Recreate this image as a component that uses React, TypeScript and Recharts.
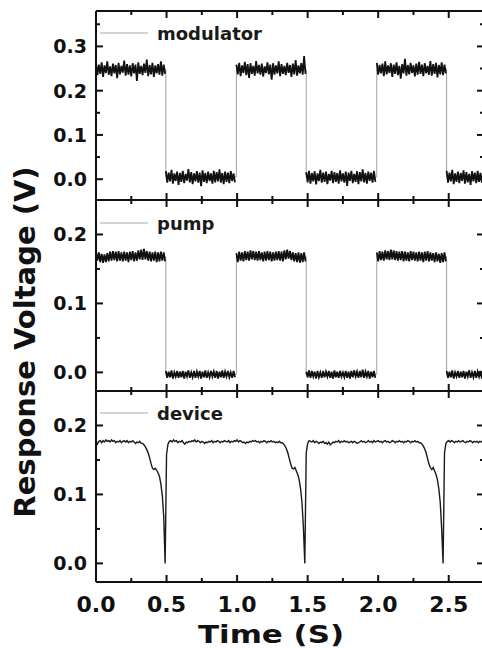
import React from 'react';
import { LineChart, Line, XAxis, YAxis } from 'recharts';

// time axis
const X_MAX = 2.75;
const SAMPLE_STEP = 0.01;
const timeTicks = [0, 0.25, 0.5, 0.75, 1, 1.25, 1.5, 1.75, 2, 2.25, 2.5];
const timeMajors = [0, 0.5, 1, 1.5, 2, 2.5];

// y ticks
const modulatorTicks = [0, 0.05, 0.1, 0.15, 0.2, 0.25, 0.3, 0.35];
const modulatorMajors = [0, 0.1, 0.2, 0.3];
const lowerTicks = [0, 0.05, 0.1, 0.15, 0.2];
const lowerMajors = [0, 0.1, 0.2];

// square wave switching instants and the level of each half period
const switchTimes = [0.495, 0.995, 1.49, 1.99, 2.485];
const modulatorLevels = [0.248, 0.005, 0.248, 0.005, 0.249, 0.005];
const pumpLevels = [0.168, -0.003, 0.168, -0.003, 0.168, -0.003];

// noisy traces, one list per half period, sampled every 10 ms
const modulatorNoise = [
  [0.262, 0.235, 0.259, 0.238, 0.264, 0.231, 0.257, 0.240, 0.266, 0.236,
   0.255, 0.233, 0.261, 0.239, 0.258, 0.228, 0.263, 0.237, 0.256, 0.241,
   0.268, 0.234, 0.260, 0.236, 0.257, 0.232, 0.262, 0.239, 0.259, 0.222,
   0.264, 0.238, 0.256, 0.235, 0.261, 0.240, 0.270, 0.233, 0.258, 0.237,
   0.263, 0.231, 0.257, 0.239, 0.260, 0.236, 0.266, 0.234, 0.259, 0.238],
  [0.018, -0.008, 0.015, -0.005, 0.021, -0.010, 0.013, -0.004, 0.017, -0.013,
   0.014, -0.006, 0.019, -0.009, 0.012, -0.003, 0.023, -0.007, 0.016, -0.011,
   0.013, -0.005, 0.018, -0.008, 0.015, -0.016, 0.020, -0.006, 0.014, -0.009,
   0.017, -0.004, 0.013, -0.010, 0.019, -0.007, 0.016, -0.005, 0.022, -0.008,
   0.014, -0.011, 0.017, -0.006, 0.015, -0.009, 0.018, -0.004, 0.013, -0.007],
  [0.259, 0.237, 0.263, 0.233, 0.257, 0.240, 0.265, 0.235, 0.260, 0.229,
   0.262, 0.238, 0.256, 0.234, 0.267, 0.239, 0.258, 0.236, 0.261, 0.232,
   0.255, 0.240, 0.264, 0.237, 0.259, 0.225, 0.262, 0.236, 0.257, 0.239,
   0.266, 0.233, 0.260, 0.238, 0.256, 0.235, 0.263, 0.240, 0.258, 0.231,
   0.261, 0.237, 0.269, 0.234, 0.257, 0.239, 0.262, 0.236, 0.278, 0.238],
  [0.016, -0.007, 0.019, -0.010, 0.014, -0.005, 0.018, -0.012, 0.013, -0.004,
   0.021, -0.008, 0.015, -0.006, 0.017, -0.011, 0.012, -0.003, 0.019, -0.009,
   0.016, -0.006, 0.014, -0.010, 0.020, -0.005, 0.013, -0.008, 0.017, -0.015,
   0.015, -0.004, 0.019, -0.009, 0.012, -0.006, 0.018, -0.011, 0.016, -0.005,
   0.022, -0.007, 0.014, -0.010, 0.017, -0.004, 0.015, -0.008, 0.019, -0.006],
  [0.263, 0.236, 0.258, 0.239, 0.261, 0.233, 0.266, 0.237, 0.257, 0.240,
   0.262, 0.231, 0.259, 0.238, 0.264, 0.235, 0.256, 0.227, 0.260, 0.239,
   0.272, 0.234, 0.258, 0.237, 0.263, 0.240, 0.257, 0.232, 0.261, 0.236,
   0.265, 0.238, 0.259, 0.233, 0.262, 0.239, 0.256, 0.236, 0.267, 0.234,
   0.260, 0.238, 0.263, 0.230, 0.258, 0.237, 0.264, 0.235, 0.259, 0.239],
  [0.019, -0.008, 0.015, -0.005, 0.021, -0.011, 0.013, -0.006, 0.017, -0.009,
   0.014, -0.004, 0.020, -0.010, 0.016, -0.007, 0.012, -0.013, 0.018, -0.005,
   0.015, -0.009, 0.019, -0.006, 0.014, -0.008, 0.017],
];

const pumpNoise = [
  [0.175, 0.162, 0.174, 0.160, 0.172, 0.159, 0.171, 0.160, 0.173, 0.161,
   0.175, 0.162, 0.176, 0.163, 0.175, 0.161, 0.176, 0.162, 0.174, 0.161,
   0.175, 0.162, 0.174, 0.160, 0.175, 0.163, 0.176, 0.161, 0.174, 0.162,
   0.177, 0.164, 0.178, 0.163, 0.179, 0.164, 0.176, 0.162, 0.175, 0.161,
   0.174, 0.162, 0.175, 0.160, 0.174, 0.161, 0.175, 0.162, 0.174, 0.161],
  [0.002, -0.008, 0.001, -0.007, 0.003, -0.009, 0.000, -0.006, 0.002, -0.008,
   0.001, -0.007, 0.002, -0.009, 0.001, -0.006, 0.003, -0.008, 0.000, -0.007,
   0.002, -0.008, 0.001, -0.006, 0.002, -0.009, 0.001, -0.007, 0.003, -0.008,
   0.000, -0.007, 0.002, -0.006, 0.001, -0.008, 0.002, -0.009, 0.001, -0.007,
   0.003, -0.008, 0.001, -0.006, 0.002, -0.007, 0.000, -0.008, 0.002, -0.007],
  [0.173, 0.160, 0.175, 0.162, 0.174, 0.161, 0.176, 0.163, 0.175, 0.162,
   0.177, 0.164, 0.176, 0.163, 0.175, 0.162, 0.176, 0.163, 0.174, 0.161,
   0.175, 0.162, 0.176, 0.163, 0.175, 0.161, 0.174, 0.162, 0.175, 0.163,
   0.176, 0.162, 0.175, 0.161, 0.177, 0.164, 0.178, 0.165, 0.176, 0.163,
   0.174, 0.161, 0.173, 0.160, 0.174, 0.159, 0.173, 0.160, 0.174, 0.161],
  [0.001, -0.007, 0.003, -0.008, 0.002, -0.006, 0.001, -0.009, 0.002, -0.007,
   0.000, -0.008, 0.002, -0.007, 0.001, -0.006, 0.002, -0.008, 0.001, -0.009,
   0.003, -0.007, 0.001, -0.008, 0.002, -0.006, 0.000, -0.007, 0.002, -0.008,
   0.001, -0.009, 0.002, -0.007, 0.003, -0.006, 0.001, -0.008, 0.002, -0.007,
   0.004, -0.008, 0.001, -0.006, 0.002, -0.009, 0.001, -0.007, 0.002, -0.008],
  [0.174, 0.161, 0.176, 0.163, 0.175, 0.162, 0.177, 0.164, 0.176, 0.163,
   0.178, 0.164, 0.177, 0.163, 0.176, 0.162, 0.175, 0.163, 0.176, 0.161,
   0.175, 0.162, 0.174, 0.161, 0.176, 0.163, 0.175, 0.162, 0.174, 0.161,
   0.175, 0.162, 0.174, 0.160, 0.175, 0.162, 0.176, 0.161, 0.174, 0.162,
   0.173, 0.160, 0.174, 0.161, 0.172, 0.159, 0.173, 0.160, 0.174, 0.161],
  [0.002, -0.008, 0.001, -0.007, 0.003, -0.009, 0.000, -0.006, 0.002, -0.008,
   0.001, -0.007, 0.002, -0.009, 0.001, -0.006, 0.003, -0.008, 0.000, -0.007,
   0.002, -0.008, 0.001, -0.006, 0.002, -0.009, 0.001],
];

// device response, 10 ms samples from 0 to 2.75 s
const deviceTrace = [
  0.176, 0.173, 0.177, 0.178, 0.175, 0.178, 0.176, 0.179, 0.177, 0.178,
  0.176, 0.179, 0.177, 0.178, 0.175, 0.177, 0.176, 0.178, 0.175, 0.177,
  0.178, 0.176, 0.178, 0.175, 0.177, 0.176, 0.178, 0.176, 0.174, 0.176,
  0.175, 0.177, 0.174, 0.174, 0.172, 0.169, 0.165, 0.160, 0.153, 0.145,
  0.138, 0.136, 0.138, 0.135, 0.131, 0.126, 0.115, 0.098, 0.068, 0.000,
  0.158, 0.173, 0.177, 0.178, 0.176, 0.179, 0.177, 0.178, 0.175, 0.177,
  0.176, 0.178, 0.175, 0.173, 0.176, 0.175, 0.177, 0.176, 0.178, 0.177,
  0.179, 0.176, 0.178, 0.177, 0.175, 0.177, 0.176, 0.174, 0.176, 0.175,
  0.177, 0.176, 0.178, 0.175, 0.177, 0.176, 0.178, 0.177, 0.175, 0.177,
  0.176, 0.178, 0.177, 0.176, 0.178, 0.175, 0.177, 0.176, 0.178, 0.177,
  0.179, 0.176, 0.178, 0.177, 0.175, 0.176, 0.174, 0.176, 0.175, 0.177,
  0.176, 0.178, 0.177, 0.178, 0.176, 0.177, 0.175, 0.177, 0.176, 0.178,
  0.177, 0.175, 0.177, 0.176, 0.178, 0.176, 0.177, 0.175, 0.176, 0.175,
  0.177, 0.175, 0.175, 0.173, 0.170, 0.166, 0.160, 0.152, 0.144, 0.138,
  0.137, 0.139, 0.134, 0.129, 0.121, 0.108, 0.088, 0.052, 0.000, 0.160,
  0.174, 0.178, 0.177, 0.176, 0.178, 0.175, 0.177, 0.176, 0.174, 0.176,
  0.175, 0.177, 0.174, 0.175, 0.173, 0.176, 0.172, 0.174, 0.176, 0.175,
  0.177, 0.176, 0.178, 0.175, 0.177, 0.176, 0.178, 0.176, 0.177, 0.175,
  0.176, 0.177, 0.175, 0.177, 0.176, 0.174, 0.175, 0.176, 0.178, 0.176,
  0.177, 0.175, 0.176, 0.178, 0.176, 0.177, 0.175, 0.178, 0.176, 0.177,
  0.178, 0.176, 0.177, 0.175, 0.177, 0.178, 0.176, 0.177, 0.175, 0.176,
  0.178, 0.177, 0.175, 0.177, 0.176, 0.178, 0.176, 0.177, 0.175, 0.177,
  0.176, 0.178, 0.177, 0.175, 0.177, 0.176, 0.178, 0.176, 0.177, 0.175,
  0.175, 0.173, 0.170, 0.166, 0.160, 0.152, 0.144, 0.139, 0.136, 0.139,
  0.134, 0.129, 0.121, 0.108, 0.088, 0.050, 0.000, 0.160, 0.174, 0.177,
  0.178, 0.176, 0.178, 0.177, 0.175, 0.177, 0.176, 0.178, 0.176, 0.177,
  0.178, 0.176, 0.175, 0.177, 0.176, 0.178, 0.177, 0.175, 0.177, 0.176,
  0.177, 0.175, 0.177, 0.176, 0.178, 0.176,
];

type Pt = { t: number; v: number | null };

const segmentRows = (segments: number[][]): Pt[] => {
  const starts = [0, ...switchTimes];
  const rows: Pt[] = [];
  segments.forEach((vals, s) => {
    vals.forEach((v, i) => rows.push({ t: +(starts[s] + i * SAMPLE_STEP).toFixed(3), v }));
    if (s < segments.length - 1) rows.push({ t: switchTimes[s], v: null });
  });
  return rows;
};

const edgeRows = (levels: number[]): Pt[] => {
  const rows: Pt[] = [{ t: 0, v: levels[0] }];
  switchTimes.forEach((t, i) => {
    rows.push({ t, v: levels[i] }, { t, v: levels[i + 1] });
  });
  rows.push({ t: X_MAX, v: levels[levels.length - 1] });
  return rows;
};

const modulatorData = segmentRows(modulatorNoise);
const modulatorEdges = edgeRows(modulatorLevels);
const pumpData = segmentRows(pumpNoise);
const pumpEdges = edgeRows(pumpLevels);
const deviceData: Pt[] = deviceTrace.map((v, i) => ({ t: +(i * SAMPLE_STEP).toFixed(3), v }));

const FONT = '"DejaVu Sans", Arial, sans-serif';
const INK = '#111';

const isOn = (list: number[], v: number) => list.some((m) => Math.abs(m - v) < 1e-6);

const makeTick =
  (side: 'left' | 'right' | 'top' | 'bottom', majors: number[], labels: boolean) =>
  (props: any) => {
    const { x, y, payload } = props;
    const v = Number(payload.value);
    const major = isOn(majors, v);
    const len = major ? 7 : 4;
    let l = { x1: x, y1: y, x2: x, y2: y };
    if (side === 'left') l = { ...l, x2: x + len };
    if (side === 'right') l = { ...l, x2: x - len };
    if (side === 'top') l = { ...l, y2: y + len };
    if (side === 'bottom') l = { ...l, y2: y - len };
    return (
      <g>
        <line {...l} stroke={INK} strokeWidth={2} />
        {labels && major && side === 'left' && (
          <text x={x - 9} y={y} dy="0.36em" textAnchor="end" fontFamily={FONT} fontWeight="bold" fontSize={19} fill={INK}>
            {v.toFixed(1)}
          </text>
        )}
        {labels && major && side === 'bottom' && (
          <text x={x} y={y + 30} textAnchor="middle" fontFamily={FONT} fontWeight="bold" fontSize={22} fill={INK}>
            {v.toFixed(1)}
          </text>
        )}
      </g>
    );
  };

const axisLine = { stroke: INK, strokeWidth: 2 };
const CHART_W = 494;
const LEFT_W = 96;

type PanelProps = {
  top: number;
  plotHeight: number;
  bottomSpace: number;
  domain: [number, number];
  yTicks: number[];
  yMajors: number[];
  timeLabels: boolean;
  children: React.ReactNode;
};

const Panel = ({ top, plotHeight, bottomSpace, domain, yTicks, yMajors, timeLabels, children }: PanelProps) => (
  <div style={{ position: 'absolute', left: 0, top }}>
    <LineChart width={CHART_W} height={plotHeight + 10 + bottomSpace} margin={{ top: 0, right: 0, bottom: 0, left: 0 }}>
      <XAxis
        dataKey="t"
        type="number"
        domain={[0, X_MAX]}
        allowDataOverflow
        ticks={timeTicks}
        interval={0}
        height={bottomSpace}
        tickSize={0}
        tickMargin={0}
        axisLine={axisLine}
        tickLine={false}
        tick={makeTick('bottom', timeMajors, timeLabels)}
      />
      <XAxis
        xAxisId="top"
        orientation="top"
        dataKey="t"
        type="number"
        domain={[0, X_MAX]}
        allowDataOverflow
        ticks={timeTicks}
        interval={0}
        height={10}
        tickSize={0}
        tickMargin={0}
        axisLine={axisLine}
        tickLine={false}
        tick={makeTick('top', timeMajors, false)}
      />
      <YAxis
        type="number"
        domain={domain}
        allowDataOverflow
        ticks={yTicks}
        interval={0}
        width={LEFT_W}
        tickSize={0}
        tickMargin={0}
        axisLine={axisLine}
        tickLine={false}
        tick={makeTick('left', yMajors, true)}
      />
      <YAxis
        yAxisId="right"
        orientation="right"
        type="number"
        domain={domain}
        allowDataOverflow
        ticks={yTicks}
        interval={0}
        width={10}
        tickSize={0}
        tickMargin={0}
        axisLine={axisLine}
        tickLine={false}
        tick={makeTick('right', yMajors, false)}
      />
      {children}
    </LineChart>
  </div>
);

const Legend = ({ y, name }: { y: number; name: string }) => (
  <g>
    <line x1={100} x2={148} y1={y} y2={y} stroke="#a8a8a8" strokeWidth={1.2} />
    <text x={157} y={y + 7} fontFamily={FONT} fontWeight="bold" fontSize={18} fill="#1a1a1a">
      {name}
    </text>
  </g>
);

export default function App() {
  return (
    <div style={{ position: 'absolute', left: 0, top: 0, width: 482, height: 648, overflow: 'hidden', background: '#fff' }}>
      <Panel top={1} plotHeight={189} bottomSpace={10} domain={[-0.047, 0.38]} yTicks={modulatorTicks} yMajors={modulatorMajors} timeLabels={false}>
        <Line data={modulatorEdges} dataKey="v" stroke="#a0a0a0" strokeWidth={1} dot={false} isAnimationActive={false} />
        <Line data={modulatorData} dataKey="v" stroke={INK} strokeWidth={1.8} dot={false} connectNulls={false} isAnimationActive={false} />
      </Panel>
      <Panel top={190} plotHeight={191} bottomSpace={10} domain={[-0.027, 0.25]} yTicks={lowerTicks} yMajors={lowerMajors} timeLabels={false}>
        <Line data={pumpEdges} dataKey="v" stroke="#a0a0a0" strokeWidth={1} dot={false} isAnimationActive={false} />
        <Line data={pumpData} dataKey="v" stroke={INK} strokeWidth={1.8} dot={false} connectNulls={false} isAnimationActive={false} />
      </Panel>
      <Panel top={381} plotHeight={191} bottomSpace={60} domain={[-0.027, 0.25]} yTicks={lowerTicks} yMajors={lowerMajors} timeLabels>
        <Line data={deviceData} dataKey="v" stroke="#1a1a1a" strokeWidth={1.4} dot={false} isAnimationActive={false} />
      </Panel>
      <svg width={482} height={648} style={{ position: 'absolute', left: 0, top: 0, pointerEvents: 'none' }}>
        <text transform="translate(35,342) rotate(-90)" textAnchor="middle" fontFamily={FONT} fontWeight="bold" fontSize={29} fill={INK}>
          Response Voltage (V)
        </text>
        <text x={271} y={643} textAnchor="middle" fontFamily={FONT} fontWeight="bold" fontSize={24} textLength={146} lengthAdjust="spacingAndGlyphs" fill={INK}>
          Time (S)
        </text>
        <Legend y={33} name="modulator" />
        <Legend y={223} name="pump" />
        <Legend y={413} name="device" />
      </svg>
    </div>
  );
}
